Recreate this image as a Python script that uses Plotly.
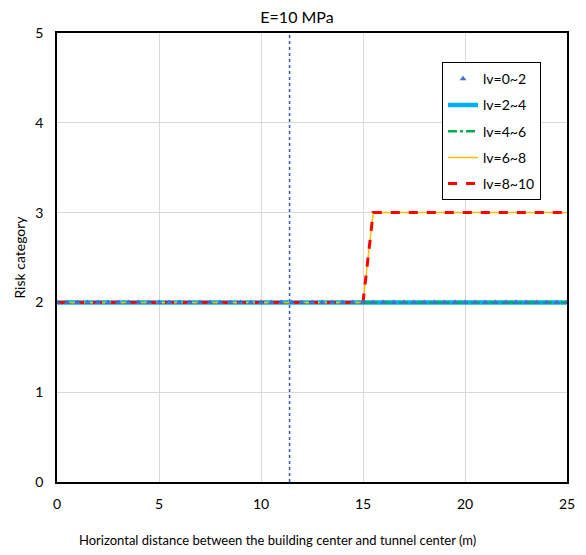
import plotly.graph_objects as go

x = [i * 0.5 for i in range(51)]
lv0_2 = [2] * 51
lv2_4 = [2] * 51
lv4_6 = [2] * 51
lv6_8 = [2] * 31 + [3] * 20
lv8_10 = [2] * 31 + [3] * 20
vline_x = [11.4, 11.4]
vline_y = [0, 5]

FONT = "Lato, sans-serif"

fig = go.Figure()
fig.add_trace(go.Scatter(x=vline_x, y=vline_y, mode="lines",
                         line=dict(color="#2F55C0", width=1.5, dash="dot"),
                         showlegend=False, hoverinfo="skip"))
fig.add_trace(go.Scatter(x=x, y=lv2_4, mode="lines", name="lv=2~4", legendrank=2,
                         legendgroup="b", line=dict(color="#00B0F0", width=4.5)))
fig.add_trace(go.Scatter(x=x, y=lv4_6, mode="lines", name="lv=4~6", legendrank=3,
                         legendgroup="c", line=dict(color="#00B050", width=2.5, dash="dashdot")))
fig.add_trace(go.Scatter(x=x, y=lv6_8, mode="lines", name="lv=6~8", legendrank=4,
                         legendgroup="d", line=dict(color="#FFC000", width=1.5)))
fig.add_trace(go.Scatter(x=x, y=lv8_10, mode="lines", name="lv=8~10", legendrank=5,
                         legendgroup="e", line=dict(color="#FF0000", width=3, dash="dash")))
fig.add_trace(go.Scatter(x=x, y=lv0_2, mode="markers", name="lv=0~2", legendrank=1,
                         legendgroup="a",
                         marker=dict(symbol="triangle-up", color="#4472C4", size=6)))

fig.add_annotation(text="Horizontal distance between the building center and tunnel center (m)",
                   xref="paper", yref="paper", x=0.433, y=0, xanchor="center",
                   yanchor="middle", yshift=-58, showarrow=False,
                   font=dict(family=FONT, size=13, color="black"))

fig.update_layout(
    width=578, height=547,
    paper_bgcolor="white", plot_bgcolor="white",
    margin=dict(l=49, r=19, t=25, b=73, autoexpand=False),
    font=dict(family=FONT, size=14, color="black"),
    title=dict(text="E=10 MPa", x=0.5, xanchor="center", y=0.982, yanchor="middle",
               font=dict(family=FONT, size=16)),
    xaxis=dict(range=[0, 25], tickvals=[0, 5, 10, 15, 20, 25],
               showgrid=True, gridcolor="#D9D9D9", gridwidth=1,
               showline=True, linecolor="black", linewidth=1.5, mirror=True,
               ticks="", zeroline=False, automargin=False, ticklabelstandoff=8,
               tickfont=dict(family=FONT, size=14)),
    yaxis=dict(range=[0, 5], tickvals=[0, 1, 2, 3, 4, 5],
               showgrid=True, gridcolor="#D9D9D9", gridwidth=1,
               showline=True, linecolor="black", linewidth=1.5, mirror=True,
               ticks="", zeroline=False, automargin=False, ticklabelstandoff=9,
               title=dict(text="Risk category", font=dict(family=FONT, size=14), standoff=6),
               tickfont=dict(family=FONT, size=14)),
    legend=dict(x=0.755, y=0.935, xanchor="left", yanchor="top",
                bgcolor="white", bordercolor="black", borderwidth=1,
                font=dict(family=FONT, size=14), tracegroupgap=5,
                itemwidth=30),
)

fig.write_html("out.html")
